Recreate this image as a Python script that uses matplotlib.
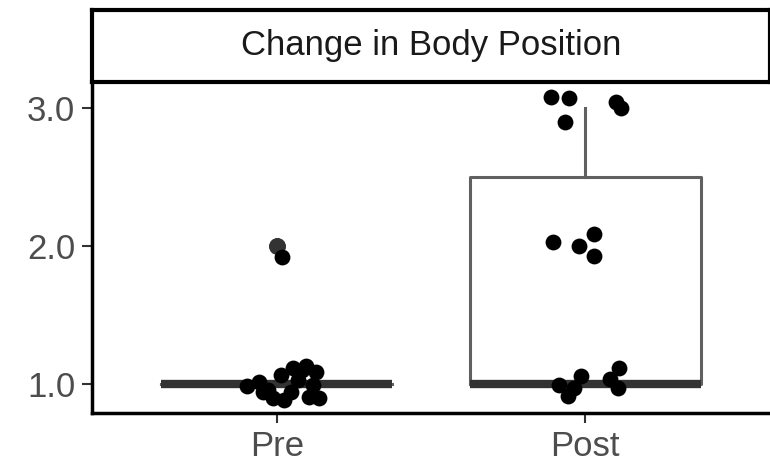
import numpy as np
import matplotlib
matplotlib.use('Agg')
import matplotlib.pyplot as plt

# data
groups = ['Pre', 'Post']
title = 'Change in Body Position'

pre_x = [0.903, 0.942, 0.955, 0.987, 1.023, 1.045, 1.068, 1.052, 1.094, 1.127,
         1.117, 1.104, 1.136, 1.013, 1.015, 0.97, 1.08]
pre_y = [0.986, 1.014, 0.942, 0.899, 0.884, 0.942, 1.029, 1.116, 1.130, 1.087,
         0.993, 0.906, 0.899, 1.065, 1.92, 0.96, 1.10]

post_x = [1.890, 1.948, 1.935, 2.101, 2.117,
          1.896, 1.981, 2.029, 2.029,
          1.916, 1.945, 1.987, 1.964, 2.110, 2.081, 2.107]
post_y = [3.080, 3.072, 2.899, 3.043, 3.000,
          2.029, 2.000, 2.087, 1.928,
          0.993, 0.913, 1.058, 0.971, 1.116, 1.036, 0.971]

# box stats (whislo, q1, med, q3, whishi, outliers)
pre_box = [1.0, 1.0, 1.0, 1.0, 1.0, [2.0, 2.0]]
post_box = [1.0, 1.0, 1.0, 2.5, 3.0, []]

plt.rcParams['font.family'] = ['Liberation Sans', 'DejaVu Sans']

fig = plt.figure(figsize=(7.7, 4.69), dpi=100)
ax = fig.add_axes([0.1195, 0.1194, 0.8805, 0.7058])
sax = fig.add_axes([0.1195, 0.8252, 0.8805, 0.1535])

stats = []
for name, b in zip(groups, [pre_box, post_box]):
    stats.append(dict(label=name, whislo=b[0], q1=b[1], med=b[2], q3=b[3],
                      whishi=b[4], fliers=b[5]))

ax.bxp(stats, positions=[1, 2], widths=0.75, showcaps=False,
       boxprops=dict(color='#606060', lw=2.2),
       whiskerprops=dict(color='#606060', lw=2.2),
       medianprops=dict(color='#333333', lw=6, solid_capstyle='butt'),
       flierprops=dict(marker='o', markerfacecolor='#333333',
                       markeredgecolor='#333333', markersize=11))

ax.scatter(pre_x, pre_y, s=130, color='black', zorder=3, linewidths=0)
ax.scatter(post_x, post_y, s=130, color='black', zorder=3, linewidths=0)

ax.set_xlim(0.4, 2.6)
ax.set_ylim(0.79, 3.19)
ax.set_yticks([1, 2, 3])
ax.set_yticklabels(['1.0', '2.0', '3.0'])
ax.set_xticks([1, 2])
ax.set_xticklabels(groups)
ax.tick_params(labelsize=25, colors='#333333', labelcolor='#4d4d4d',
               length=7, width=1.5, pad=5)

for s in ['top', 'right']:
    ax.spines[s].set_visible(False)
for s in ['left', 'bottom']:
    ax.spines[s].set_linewidth(2.5)
    ax.spines[s].set_color('black')

# facet strip
sax.set_xticks([])
sax.set_yticks([])
for s in sax.spines.values():
    s.set_linewidth(3)
    s.set_color('black')
sax.text(0.5, 0.5, title, ha='center', va='center', fontsize=25,
         color='#1a1a1a', transform=sax.transAxes)

fig.savefig('out.png', dpi=100)
